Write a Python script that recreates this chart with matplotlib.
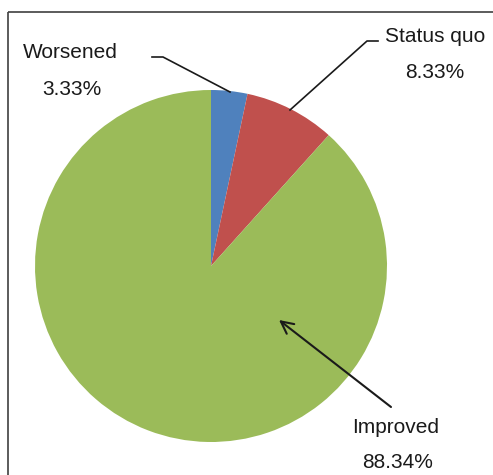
import matplotlib
matplotlib.use("Agg")
import matplotlib.pyplot as plt

categories = ["Worsened", "Status quo", "Improved"]
values = [3.33, 8.33, 88.34]
pct_labels = ["3.33%", "8.33%", "88.34%"]
colors = ["#4F81BD", "#C0504D", "#9BBB59"]

W, H = 493, 475
fig = plt.figure(figsize=(W / 100, H / 100), dpi=100)
ax = fig.add_axes([0, 0, 1, 1])
ax.set_xlim(0, W)
ax.set_ylim(0, H)
ax.axis("off")

def Y(py):
    return H - py

ax.pie(values, colors=colors, startangle=90, counterclock=False,
       center=(211, Y(266)), radius=176, frame=True,
       wedgeprops=dict(linewidth=0))
ax.set_xlim(0, W)
ax.set_ylim(0, H)
ax.set_aspect("equal")
ax.axis("off")

# border (top and left)
bc = "#404040"
ax.plot([8, W], [Y(12), Y(12)], color=bc, lw=1.2, solid_capstyle="butt")
ax.plot([8, 8], [Y(12), 0], color=bc, lw=1.2, solid_capstyle="butt")

fp = dict(family="Liberation Sans", fontsize=15, color="#1a1a1a")

# labels
ax.text(70, Y(58), categories[0], ha="center", va="baseline", **fp)
ax.text(72, Y(95), pct_labels[0], ha="center", va="baseline", **fp)
ax.text(435, Y(42), categories[1], ha="center", va="baseline", **fp)
ax.text(435, Y(78), pct_labels[1], ha="center", va="baseline", **fp)
ax.text(396, Y(433), categories[2], ha="center", va="baseline", **fp)
ax.text(398, Y(468), pct_labels[2], ha="center", va="baseline", **fp)

# leader lines
lc = "#1a1a1a"
ax.plot([152, 163, 230], [Y(57), Y(57), Y(92)], color=lc, lw=1.2)
ax.plot([378, 367, 290], [Y(41), Y(41), Y(110)], color=lc, lw=1.2)
ax.annotate("", xy=(279, Y(320)), xytext=(391, Y(407)),
            arrowprops=dict(arrowstyle="->", color=lc, lw=1.5,
                            mutation_scale=22, shrinkA=0, shrinkB=0))

fig.savefig("out.png", dpi=100)
